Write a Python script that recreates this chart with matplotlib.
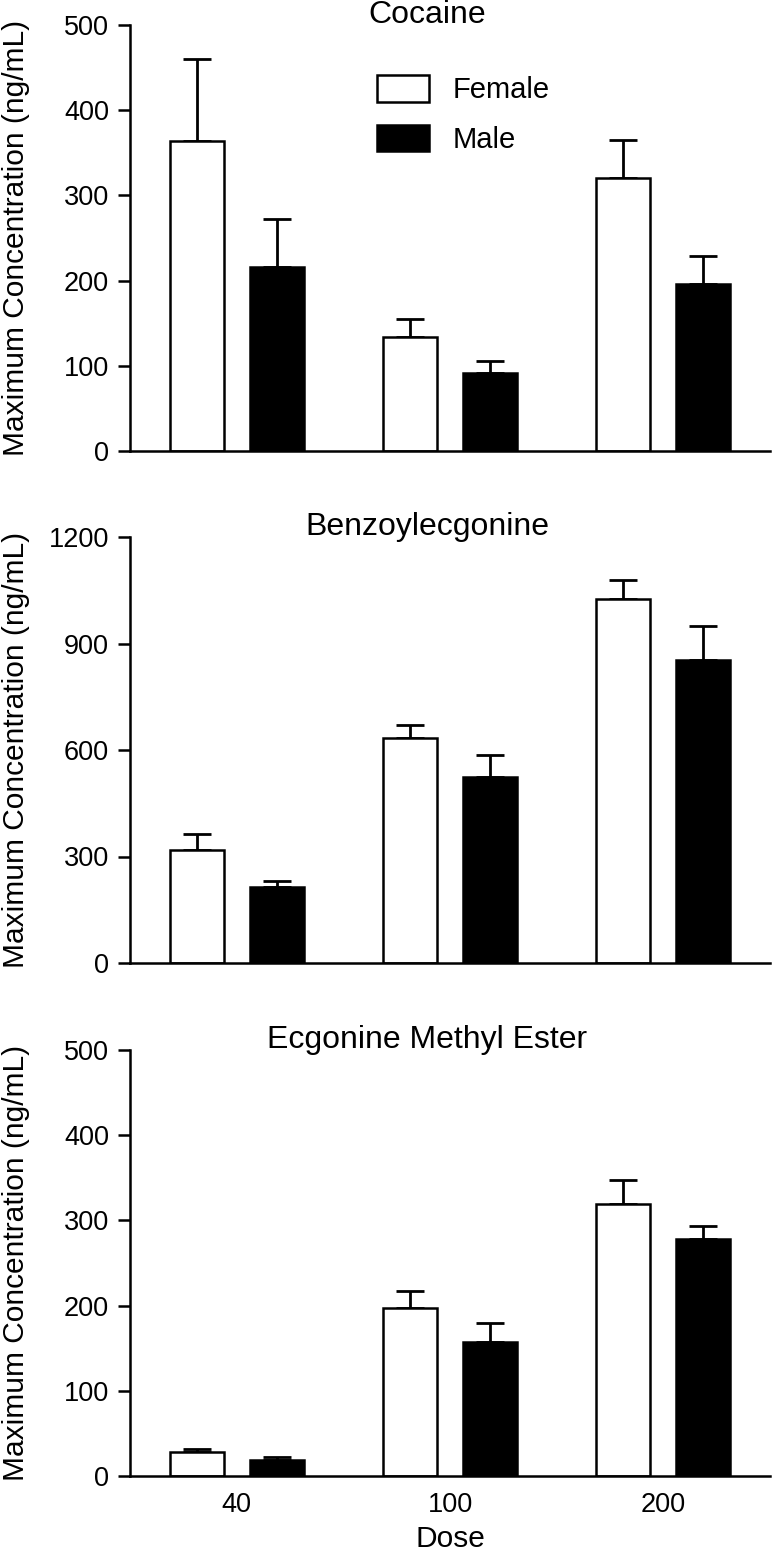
"""
Peak plasma concentration of cocaine and metabolites by dose and sex.
"""
import numpy as np
import matplotlib
matplotlib.use('Agg')
import matplotlib.pyplot as plt

plt.rcParams.update({
    'font.family': ['Liberation Sans', 'DejaVu Sans'],
    'font.size': 19,
    'axes.linewidth': 1.8,
    'xtick.labelsize': 19.5,
    'ytick.labelsize': 19.5,
})

# Data (ng/mL): mean and upper SEM
doses = ['40', '100', '200']
sexes = ['Female', 'Male']

cocaine_female = [364, 134, 321]
cocaine_female_sem = [96, 21, 44]
cocaine_male = [216, 91, 196]
cocaine_male_sem = [56, 15, 33]

be_female = [319, 634, 1024]
be_female_sem = [45, 37, 54]
be_male = [213, 523, 854]
be_male_sem = [19, 63, 96]

eme_female = [28, 197, 319]
eme_female_sem = [4, 20, 28]
eme_male = [19, 157, 278]
eme_male_sem = [3, 22, 15]

panels = [
    ('Cocaine', cocaine_female, cocaine_female_sem, cocaine_male, cocaine_male_sem,
     [0, 100, 200, 300, 400, 500]),
    ('Benzoylecgonine', be_female, be_female_sem, be_male, be_male_sem,
     [0, 300, 600, 900, 1200]),
    ('Ecgonine Methyl Ester', eme_female, eme_female_sem, eme_male, eme_male_sem,
     [0, 100, 200, 300, 400, 500]),
]

W, H = 772, 1554
fig = plt.figure(figsize=(W / 100, H / 100), dpi=100)

# axes boxes in pixels: (top, bottom)
boxes = [(25, 451), (537, 963), (1050, 1476)]
left_px, right_px = 130, 770

x = np.arange(len(doses))
offset = 0.187
width = 0.253

for i, ((title, f, fs, m, ms, yticks), (top, bot)) in enumerate(zip(panels, boxes)):
    ax = fig.add_axes([left_px / W, 1 - bot / H, (right_px - left_px) / W, (bot - top) / H])

    ax.bar(x - offset, f, width, color='white', edgecolor='black', linewidth=1.8,
           label=sexes[0], zorder=2)
    ax.bar(x + offset, m, width, color='black', edgecolor='black', linewidth=1.8,
           label=sexes[1], zorder=2)
    ax.errorbar(x - offset, f, yerr=[np.zeros(len(fs)), fs], fmt='none',
                ecolor='black', elinewidth=2, capsize=10, capthick=2, zorder=1)
    ax.errorbar(x + offset, m, yerr=[np.zeros(len(ms)), ms], fmt='none',
                ecolor='black', elinewidth=2, capsize=10, capthick=2, zorder=1)

    ax.set_xlim(-0.5, 2.5)
    ax.set_ylim(yticks[0], yticks[-1])
    ax.set_yticks(yticks)
    ax.tick_params(axis='y', length=8.6, width=1.8, pad=6.5)
    ax.spines['top'].set_visible(False)
    ax.spines['right'].set_visible(False)
    for sp in ax.spines.values():
        sp.set_clip_on(False)

    ax.set_xticks(x)
    if i == 2:
        ax.set_xticklabels(doses)
        ax.tick_params(axis='x', length=0, pad=11.5)
        ax.set_xlabel('Dose', fontsize=21.5, labelpad=5)
    else:
        ax.set_xticklabels([])
        ax.tick_params(axis='x', length=0)

    ax.set_ylabel('Maximum Concentration (ng/mL)', fontsize=21.5, va='center')
    ax.yaxis.set_label_coords(-0.178, 0.5)

    ax.text(0.464, 1.023, title, transform=ax.transAxes, ha='center', va='center',
            fontsize=23)

    if i == 0:
        ax.legend(loc='upper left', bbox_to_anchor=(0.386, 0.883), frameon=False,
                  fontsize=21, handlelength=1.78, handleheight=1.03,
                  handletextpad=0.82, labelspacing=0.7, borderpad=0,
                  borderaxespad=0)

plt.savefig('out.png', dpi=100)
plt.close()
